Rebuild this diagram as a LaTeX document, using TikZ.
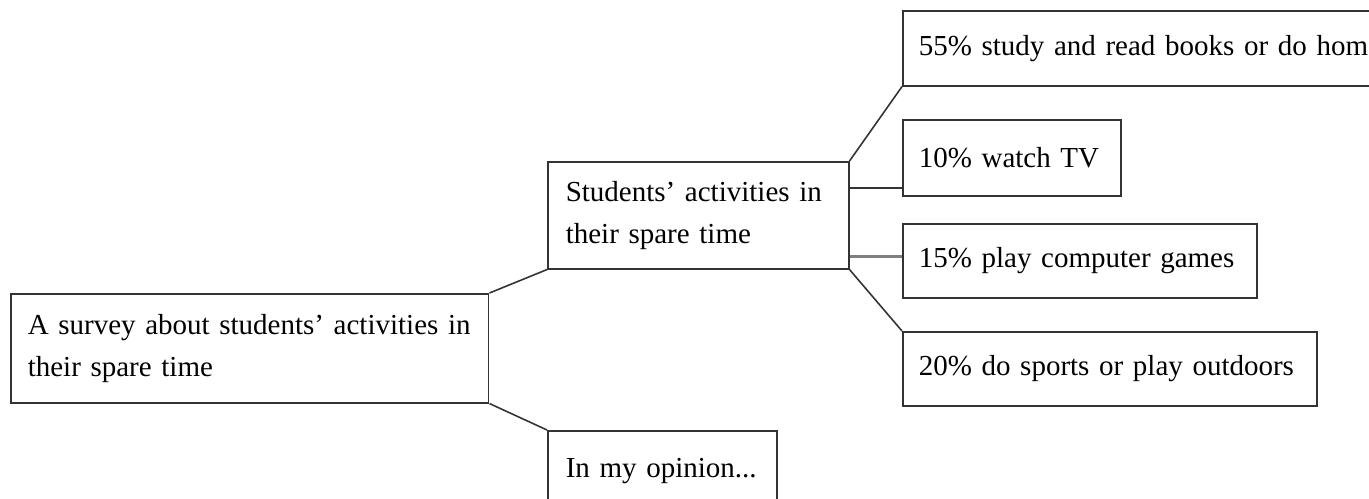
\documentclass[tikz,border=0pt]{standalone}
\usepackage{fontspec}
\setmainfont{Liberation Serif}
\usetikzlibrary{calc}

\begin{document}
\begin{tikzpicture}[x=0.02cm, y=-0.02cm,
    box/.style={draw=black!80, line width=0.9pt, anchor=north west, inner xsep=0pt,
      align=left, font=\fontsize{16.5}{23.8}\selectfont},
    link/.style={draw=black!80, line width=0.9pt}]
  \useasboundingbox (0,0) rectangle (1369,499);
  \clip (0,0) rectangle (1369,499);
  \node[box, minimum width=9.56cm, minimum height=2.18cm, text width=8.88cm] (survey) at (10,293)
    {A survey about students’ activities in\\their spare time};
  \node[box, minimum width=6.02cm, minimum height=2.14cm, text width=5.3cm] (activities) at (547,161)
    {Students’ activities in\\their spare time};
  \node[box, minimum width=4.58cm, minimum height=1.6cm, text width=3.86cm] (opinion) at (547,430)
    {In my opinion...};
  \node[box, minimum width=11.6cm, minimum height=1.5cm, text width=10.96cm] (study) at (902,10)
    {55\% study and read books or do homework};
  \node[box, minimum width=4.36cm, minimum height=1.52cm, text width=3.72cm] (tv) at (902,119)
    {10\% watch TV};
  \node[box, minimum width=7.08cm, minimum height=1.48cm, text width=6.44cm] (games) at (902,223)
    {15\% play computer games};
  \node[box, minimum width=8.28cm, minimum height=1.48cm, text width=7.64cm] (sports) at (902,331)
    {20\% do sports or play outdoors};
  \coordinate (tvend) at ($(activities.north east)!0.25!(activities.south east)$);
  \coordinate (gamesend) at ($(activities.north east)!0.88!(activities.south east)$);
  \draw[link] (survey.north east) -- (activities.south west);
  \draw[link] (survey.south east) -- (opinion.north west);
  \draw[link] (activities.north east) -- (study.south west);
  \draw[link] (tvend) -- (tvend -| tv.west);
  \draw[link, draw=black!50, line width=1.2pt] (gamesend) -- (gamesend -| games.west);
  \draw[link] (activities.south east) -- (sports.north west);
\end{tikzpicture}
\end{document}
